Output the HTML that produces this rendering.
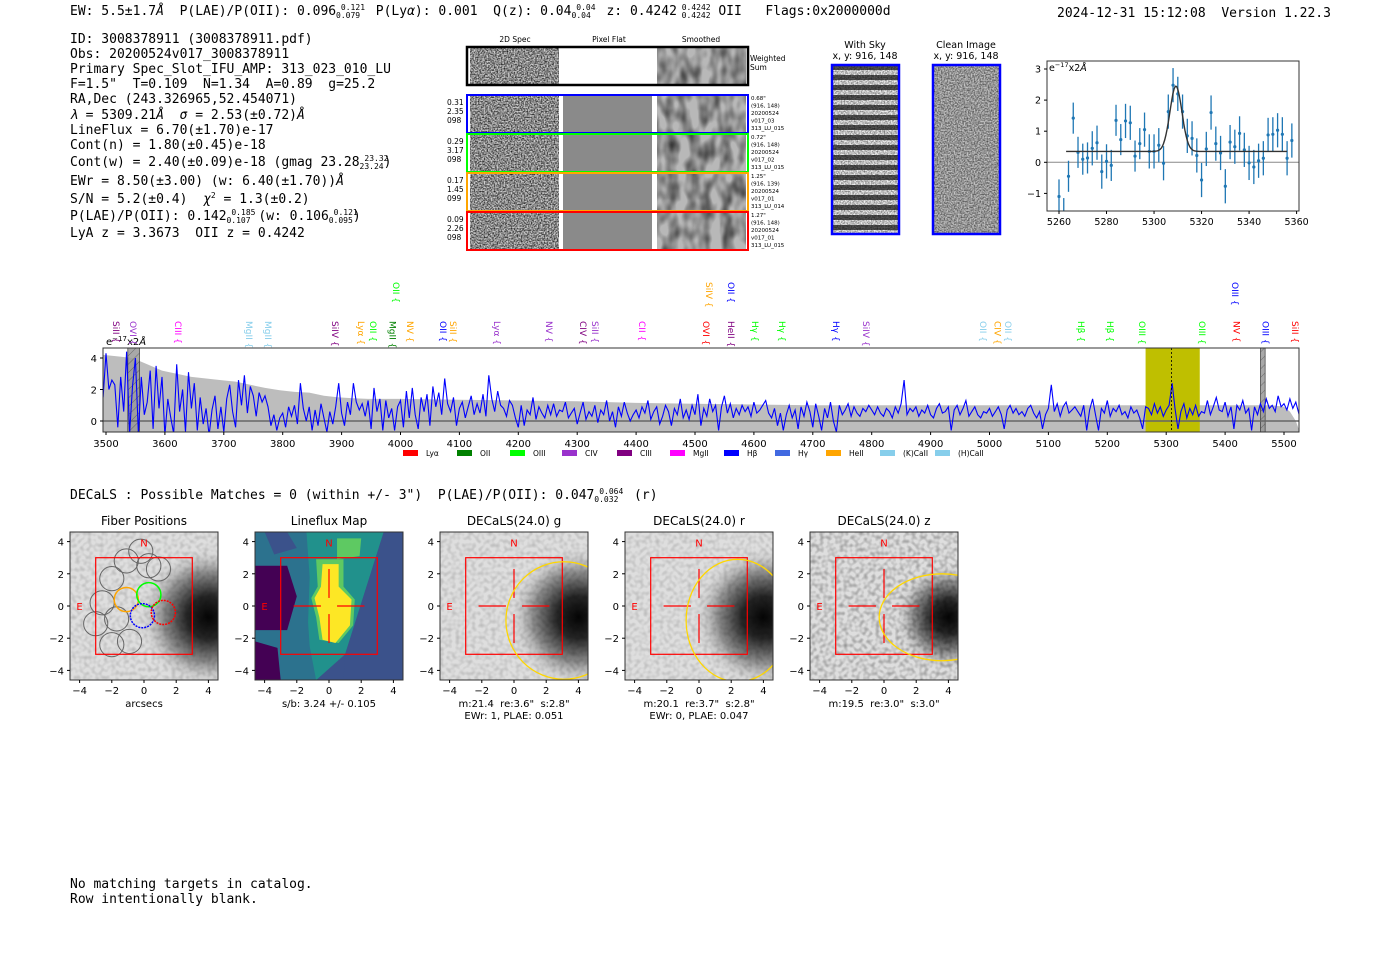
<!DOCTYPE html>
<html><head><meta charset="utf-8">
<style>
html,body{margin:0;padding:0;background:#fff;}
svg{display:block;}
text{white-space:pre;}
.mono{font-family:"DejaVu Sans Mono","Liberation Mono",monospace;font-size:13px;fill:#000;}
.sans{font-family:"DejaVu Sans","Liberation Sans",sans-serif;}
</style></head>
<body>
<svg id="root" width="1400" height="953" viewBox="0 0 1400 953" xmlns="http://www.w3.org/2000/svg" xml:space="preserve">
<defs>
  <filter id="grayNoise" x="0" y="0" width="100%" height="100%">
    <feTurbulence type="fractalNoise" baseFrequency="0.7" numOctaves="1" seed="5" result="t"/>
    <feColorMatrix in="t" type="matrix" values="0 0 0 0 0  0 0 0 0 0  0 0 0 0 0  1.8 0 0 0 -0.55" result="a"/>
    <feFlood flood-color="#000"/>
    <feComposite in2="a" operator="in"/>
  </filter>
  <filter id="smoothNoise" x="0" y="0" width="100%" height="100%">
    <feTurbulence type="fractalNoise" baseFrequency="0.09 0.05" numOctaves="2" seed="8" result="t"/>
    <feColorMatrix in="t" type="matrix" values="0 0 0 0 0  0 0 0 0 0  0 0 0 0 0  1.3 0 0 0 -0.45" result="a"/>
    <feFlood flood-color="#000"/>
    <feComposite in2="a" operator="in"/>
  </filter>
  <filter id="pixNoise" x="0" y="0" width="100%" height="100%">
    <feTurbulence type="fractalNoise" baseFrequency="0.25" numOctaves="1" seed="11" result="t"/>
    <feColorMatrix in="t" type="matrix" values="0 0 0 0 0  0 0 0 0 0  0 0 0 0 0  1.0 0 0 0 -0.4" result="a"/>
    <feFlood flood-color="#000"/>
    <feComposite in2="a" operator="in"/>
  </filter>
  <pattern id="skyStripes" width="10" height="10" patternUnits="userSpaceOnUse">
    <rect width="10" height="5" fill="#f0f0f0"/><rect y="5" width="10" height="5" fill="#555"/>
  </pattern>
  <pattern id="hatch" width="6" height="6" patternUnits="userSpaceOnUse" patternTransform="rotate(45)">
    <rect width="6" height="6" fill="#999"/><line x1="0" y1="0" x2="0" y2="6" stroke="#555" stroke-width="1"/>
  </pattern>
</defs>

<text class="mono" x="70" y="15">EW: 5.5±1.7<tspan font-style="italic">Å</tspan>  P(LAE)/P(OII): 0.096<tspan font-size="8" dy="-5"> 0.121</tspan><tspan font-size="8" dx="-29" dy="8">0.079</tspan><tspan dy="-3">  P(Ly<tspan font-style="italic">α</tspan>): 0.001  Q(z): 0.04</tspan><tspan font-size="8" dy="-5"> 0.04</tspan><tspan font-size="8" dx="-24" dy="8">0.04</tspan><tspan dy="-3">  z: 0.4242</tspan><tspan font-size="8" dy="-5"> 0.4242</tspan><tspan font-size="8" dx="-29" dy="8">0.4242</tspan><tspan dy="-3"> OII   Flags:0x2000000d</tspan></text>
<text class="mono" x="1057" y="17">2024-12-31 15:12:08  Version 1.22.3</text>

<g id="info">
<text class="mono" x="70" y="43">ID: 3008378911 (3008378911.pdf)</text>
<text class="mono" x="70" y="58">Obs: 20200524v017_3008378911</text>
<text class="mono" x="70" y="73">Primary Spec_Slot_IFU_AMP: 313_023_010_LU</text>
<text class="mono" x="70" y="88">F=1.5"  T=0.109  N=1.34  A=0.89  g=25.2</text>
<text class="mono" x="70" y="103">RA,Dec (243.326965,52.454071)</text>
<text class="mono" x="70" y="119"><tspan font-style="italic">λ</tspan> = 5309.21<tspan font-style="italic">Å</tspan>  <tspan font-style="italic">σ</tspan> = 2.53(±0.72)<tspan font-style="italic">Å</tspan></text>
<text class="mono" x="70" y="134">LineFlux = 6.70(±1.70)e-17</text>
<text class="mono" x="70" y="149">Cont(n) = 1.80(±0.45)e-18</text>
<text class="mono" x="70" y="166">Cont(w) = 2.40(±0.09)e-18 (gmag 23.28<tspan font-size="8" dy="-5"> 23.32</tspan><tspan font-size="8" dx="-29" dy="8">23.24</tspan><tspan dy="-3">)</tspan></text>
<text class="mono" x="70" y="185">EWr = 8.50(±3.00) (w: 6.40(±1.70))<tspan font-style="italic">Å</tspan></text>
<text class="mono" x="70" y="203">S/N = 5.2(±0.4)  <tspan font-style="italic">χ</tspan><tspan font-size="8" dy="-5">2</tspan><tspan dy="5"> = 1.3(±0.2)</tspan></text>
<text class="mono" x="70" y="220">P(LAE)/P(OII): 0.142<tspan font-size="8" dy="-5"> 0.185</tspan><tspan font-size="8" dx="-29" dy="8">0.107</tspan><tspan dy="-3"> (w: 0.106</tspan><tspan font-size="8" dy="-5"> 0.121</tspan><tspan font-size="8" dx="-29" dy="8">0.095</tspan><tspan dy="-3">)</tspan></text>
<text class="mono" x="70" y="237">LyA z = 3.3673  OII z = 0.4242</text>
</g>

<g id="spec2d"></g>
<g id="fitplot"></g>
<g id="spectrum"></g>

<text class="mono" x="70" y="499">DECaLS : Possible Matches = 0 (within +/- 3")  P(LAE)/P(OII): 0.047<tspan font-size="8" dy="-5"> 0.064</tspan><tspan font-size="8" dx="-29" dy="8">0.032</tspan><tspan dy="-3">  (r)</tspan></text>

<g id="cutouts"></g>

<text class="mono" x="70" y="888">No matching targets in catalog.</text>
<text class="mono" x="70" y="903">Row intentionally blank.</text>
</svg>

<script>
const NS='http://www.w3.org/2000/svg';
function mk(parent,tag,attrs,text){const e=document.createElementNS(NS,tag);for(const k in attrs)e.setAttribute(k,attrs[k]);if(text!==undefined)e.textContent=text;parent.appendChild(e);return e;}

/* ---------- full spectrum data ---------- */
const specStart=3495;
const specStep=5;
const specFlux=[
1.5,4.3,2.0,2.6,2.3,-0.4,2.8,0.6,4.4,-0.8,2.2,4.0,-0.8,2.8,0.4,1.2,3.2,-0.5,3.5,0.8,
2.8,-0.9,1.4,0.2,-0.8,3.6,0.6,2.0,-0.7,3.1,0.8,2.4,-0.6,1.5,-0.2,0.8,-0.9,0.7,1.6,-0.5,
0.9,-0.7,1.4,2.3,0.6,-0.4,2.6,1.0,2.9,0.5,2.2,1.6,0.3,1.8,1.2,1.6,0.9,-0.3,0.4,-0.6,
0.2,0.5,-0.4,0.9,0.3,1.0,-0.2,2.4,0.8,0.0,0.9,-0.6,0.7,-0.3,1.1,0.2,-0.7,0.6,-0.2,0.9,
2.4,0.5,-0.3,1.2,0.4,2.4,1.2,0.7,1.1,0.3,1.3,-0.5,2.1,0.6,1.4,-0.6,1.3,0.2,0.8,-0.6,
0.9,1.3,-0.4,1.9,0.2,2.1,0.4,-0.5,1.5,0.6,1.7,-0.3,2.2,0.9,1.8,0.4,2.7,1.1,0.6,1.5,
-0.3,0.8,1.2,0.2,0.9,1.6,0.4,1.1,0.5,1.7,0.3,2.9,1.4,0.6,1.9,1.0,0.8,0.3,1.3,1.0,
0.2,-0.4,1.0,-0.3,0.7,0.4,1.5,0.1,0.9,0.5,0.2,1.0,0.4,1.1,0.3,0.7,0.6,1.2,0.2,0.5,
0.8,-0.2,0.5,1.2,0.1,0.6,0.3,1.0,-0.1,0.7,0.4,1.3,0.0,0.6,-0.4,0.9,0.3,1.2,0.5,0.0,
0.4,0.7,0.2,0.9,0.5,1.3,0.1,0.6,0.9,-0.2,0.3,1.0,0.6,-0.3,0.8,0.4,1.4,0.2,0.7,0.1,
1.0,0.4,1.7,-0.3,0.8,0.3,1.4,0.6,1.0,-0.6,0.9,1.6,0.5,1.1,0.2,0.8,0.4,1.0,0.6,0.9,
0.3,1.2,0.5,0.7,1.0,1.3,0.5,0.2,0.8,-0.3,0.5,-0.6,0.4,1.0,0.2,0.7,-0.5,0.9,0.3,1.2,
0.6,-0.4,1.1,0.3,-0.6,0.8,0.2,1.2,0.0,-0.7,1.0,0.4,0.7,1.1,0.3,0.9,0.5,0.3,0.8,0.6,
1.0,0.7,0.4,0.9,0.5,0.3,0.8,0.6,0.2,0.9,0.5,1.1,2.6,0.4,0.8,0.6,0.9,0.3,0.7,0.5,
1.0,0.4,0.2,0.8,1.1,0.5,0.6,0.9,-0.6,0.7,1.0,0.4,0.8,1.3,0.3,0.6,0.9,0.4,0.2,0.6,
0.5,0.8,0.3,0.6,0.9,0.4,-0.5,0.7,1.0,0.5,0.8,0.4,0.6,0.3,0.8,1.0,0.5,0.2,0.6,-0.5,
0.4,0.8,2.3,0.6,1.1,0.3,0.9,1.2,0.5,0.7,0.9,0.6,0.3,1.0,-0.6,0.7,1.4,0.4,-0.6,0.8,
0.5,1.3,0.3,0.8,0.6,1.0,0.4,0.6,0.2,0.9,0.5,0.7,0.2,-0.5,0.9,0.8,0.4,1.1,0.5,0.9,
0.3,0.7,1.0,2.4,0.8,-0.5,0.6,1.1,0.2,0.8,0.4,1.0,0.3,0.6,0.5,1.3,0.4,0.9,1.5,0.7,
0.6,1.2,0.3,0.9,-0.5,1.0,0.7,1.3,0.5,0.8,-0.6,0.9,0.4,1.1,0.6,1.4,0.8,1.0,0.6,1.6,
0.9,1.1,0.7,1.4,0.8,1.2,0.5,1.0];
const errWave=[3495,3520,3545,3570,3595,3620,3645,3670,3695,3720,3745,3770,3795,3820,3845,3870,3895,3920,3945,4000,4100,4200,4300,4400,4500,4600,4700,4800,4900,5000,5100,5200,5300,5400,5480,5500,5510,5520,5525];
const errFlux=[4.2,4.1,4.0,3.6,3.2,3.0,2.8,2.7,2.6,2.5,2.3,2.1,1.95,1.85,1.8,1.6,1.5,1.45,1.4,1.4,1.35,1.3,1.25,1.15,1.1,1.05,1.0,1.0,1.0,1.0,1.0,1.0,1.0,1.0,1.0,0.9,0.6,0.0,-0.5];
const specTicks=[3500,3600,3700,3800,3900,4000,4100,4200,4300,4400,4500,4600,4700,4800,4900,5000,5100,5200,5300,5400,5500];
const specYTicks=[0,2,4];
const lineNames=['SiII','OVI','CIII','MgII','MgII','SiIV','Lyα','OII','MgII','NV','OII','SiII','Lyα','NV','CIV','SiII','CII','OVI','HeII','Hγ','Hγ','Hγ','SiIV','OII','CIV','OII','Hβ','Hβ','OIII','OIII','NV','OIII','SiII','OII','SiIV','OII','OIII'];
const lineWaves=[3517,3546,3622,3743,3775,3889,3933,3953,3986,4016,4072,4089,4164,4252,4310,4330,4410,4519,4561,4602,4648,4739,4790,4989,5014,5031,5155,5205,5259,5361,5419,5469,5519,3992,4524,4561,5417];
const lineColors=['#800080','#9932cc','#ff00ff','#87ceeb','#87ceeb','#800080','#ffa500','#00ff00','#008000','#ffa500','#0000ff','#ffa500','#9932cc','#9932cc','#800080','#9932cc','#ff00ff','#ff0000','#800080','#00ff00','#00ff00','#0000ff','#9932cc','#87ceeb','#ffa500','#87ceeb','#00ff00','#00ff00','#00ff00','#00ff00','#ff0000','#0000ff','#ff0000','#00ff00','#ffa500','#0000ff','#0000ff'];
const lineTier=[0,0,0,0,0,0,0,0,0,0,0,0,0,0,0,0,0,0,0,0,0,0,0,0,0,0,0,0,0,0,0,0,0,1,1,1,1];
const legendNames=['Lyα','OII','OIII','CIV','CIII','MgII','Hβ','Hγ','HeII','(K)CaII','(H)CaII'];
const legendColors=['#ff0000','#008000','#00ff00','#9932cc','#800080','#ff00ff','#0000ff','#4169e1','#ffa500','#87ceeb','#87ceeb'];

/* ---------- fit plot data ---------- */
const fitWave=[5260,5262,5264,5266,5268,5270,5272,5274,5276,5278,5280,5282,5284,5286,5288,5290,5292,5294,5296,5298,5300,5302,5304,5306,5308,5310,5312,5314,5316,5318,5320,5322,5324,5326,5328,5330,5332,5334,5336,5338,5340,5342,5344,5346,5348,5350,5352,5354,5356,5358];
const fitFlux=[-1.1,-1.7,-0.45,1.42,0.32,0.1,0.14,0.45,0.63,-0.3,0.03,-0.1,1.35,0.73,1.33,1.27,0.2,0.6,1.05,0.35,0.35,0.55,-0.03,1.63,2.48,2.2,1.63,0.85,0.77,0.22,-0.57,0.43,1.6,0.6,0.3,-0.77,0.65,0.5,0.93,0.4,-0.02,-0.15,0.05,0.13,0.88,0.9,1.03,0.9,0.13,0.7];
const fitErr=[0.55,0.55,0.5,0.5,0.5,0.5,0.5,0.55,0.55,0.55,0.55,0.5,0.5,0.5,0.55,0.55,0.5,0.5,0.55,0.55,0.55,0.55,0.55,0.55,0.55,0.55,0.55,0.55,0.55,0.55,0.55,0.55,0.55,0.55,0.55,0.55,0.55,0.55,0.55,0.55,0.55,0.55,0.55,0.55,0.55,0.55,0.55,0.55,0.55,0.55];
const fitModel={cont:0.35,amp:2.1,mu:5309.21,sigma:2.53,start:5263,end:5356};
const fitXTicks=[5260,5280,5300,5320,5340,5360];
const fitYTicks=[-1,0,1,2,3];

/* ---------- cutout data ---------- */
const cutTitles=['Fiber Positions','Lineflux Map','DECaLS(24.0) g','DECaLS(24.0) r','DECaLS(24.0) z'];
const cutLabel1=['arcsecs','s/b: 3.24 +/- 0.105','m:21.4  re:3.6"  s:2.8"','m:20.1  re:3.7"  s:2.8"','m:19.5  re:3.0"  s:3.0"'];
const cutLabel2=['','','EWr: 1, PLAE: 0.051','EWr: 0, PLAE: 0.047',''];
const ellipseCx=[null,null,3.1,2.4,3.6];
const ellipseCy=[null,null,-0.9,-0.9,-0.7];
const ellipseRx=[null,null,3.6,3.2,3.9];
const ellipseRy=[null,null,3.65,3.8,2.7];
const cutTicks=[-4,-2,0,2,4];
const fiberGrayX=[-0.2,0.9,-1.1,-2.0,-2.6,-3.0,-2.0,-0.9,-1.7,0.3];
const fiberGrayY=[3.4,2.3,2.8,1.7,0.2,-1.1,-2.4,-2.2,-0.8,2.5];
const fiberColX=[-1.1,0.3,-0.1,1.2];
const fiberColY=[0.4,0.7,-0.6,-0.4];
const fiberColors=['#ffa500','#00ff00','#0000ff','#ff0000'];

/* ===== Full spectrum ===== */
(function(){
  const g=document.getElementById('spectrum');
  const L=103,R=1299,T=348,B=432;
  const xs=w=>106+(w-3500)*0.589;
  const ys=v=>421-v*15.75;
  const cp=mk(g,'clipPath',{id:'specClip'});mk(cp,'rect',{x:L,y:T,width:R-L,height:B-T});
  const inner=mk(g,'g',{'clip-path':'url(#specClip)'});
  let d='M'+xs(errWave[0])+','+B;
  errWave.forEach((w,i)=>{d+=' L'+xs(w).toFixed(1)+','+ys(errFlux[i]).toFixed(1);});
  d+=' L'+xs(errWave[errWave.length-1])+','+B+' Z';
  const ef=mk(inner,'path',{d:d,fill:'#bdbdbd'});
  
  
  const yb=mk(inner,'rect',{x:xs(5265),y:T,width:xs(5357)-xs(5265),height:B-T,fill:'#bfbf00'});
  
  
  [[3537,3557],[5460,5468]].forEach(b=>{
    const h=mk(inner,'rect',{x:xs(b[0]),y:T,width:xs(b[1])-xs(b[0]),height:B-T,fill:'url(#hatch)',stroke:'#333','stroke-width':0.8,opacity:0.85});
    
    
  });
  mk(inner,'line',{x1:L,x2:R,y1:ys(0),y2:ys(0),stroke:'#666','stroke-width':1.5});
  let p='';
  specFlux.forEach((v,i)=>{const w=specStart+i*specStep;p+=(i?' L':'M')+xs(w).toFixed(1)+','+ys(v).toFixed(1);});
  const sl=mk(inner,'path',{d:p,fill:'none',stroke:'#0000ff','stroke-width':1.1});
  
  
  mk(inner,'line',{x1:xs(5309),x2:xs(5309),y1:T,y2:B,stroke:'#000','stroke-width':0.8,'stroke-dasharray':'2,2'});
  mk(g,'rect',{x:L,y:T,width:R-L,height:B-T,fill:'none',stroke:'#333','stroke-width':1});
  specTicks.forEach(t=>{
    mk(g,'line',{x1:xs(t),x2:xs(t),y1:B,y2:B+3,stroke:'#000'});
    const tx=mk(g,'text',{x:xs(t),y:B+15,'text-anchor':'middle','class':'sans','font-size':10},String(t));
    
    
  });
  specYTicks.forEach(t=>{
    mk(g,'line',{x1:L-3,x2:L,y1:ys(t),y2:ys(t),stroke:'#000'});
    const tx=mk(g,'text',{x:L-6,y:ys(t)+4,'text-anchor':'end','class':'sans','font-size':10},String(t));
    
    
  });
  const ul=mk(g,'text',{x:106,y:345,'class':'sans','font-size':10},'e');
  mk(ul,'tspan',{'font-size':7,dy:-4},'−17');
  mk(ul,'tspan',{dy:4},'x2');
  mk(ul,'tspan',{'font-style':'italic'},'Å');
  
  
  lineNames.forEach((n,i)=>{
    const x=xs(lineWaves[i]);
    const yTop=lineTier[i]?282:321;
    const t=mk(g,'text',{x:0,y:0,'class':'sans','font-size':9,fill:lineColors[i],transform:'translate('+(x-3)+','+yTop+') rotate(90)'},n+' {');
    
    
  });
  const legX=[403,457,510,562,617,670,724,775,826,880,935];
  legendNames.forEach((n,i)=>{
    const lg=mk(g,'g',{});
    
    
    mk(lg,'rect',{x:legX[i],y:450,width:15,height:6,fill:legendColors[i]});
    mk(lg,'text',{x:legX[i]+23,y:456,'class':'sans','font-size':7.5},n);
  });
})();

/* ===== Fit plot ===== */
(function(){
  const g=document.getElementById('fitplot');
  const L=1047,R=1299,T=61,B=211;
  const xs=w=>1059+(w-5260)*2.376;
  const ys=v=>162.3-v*31.1;
  mk(g,'rect',{x:L,y:T,width:R-L,height:B-T,fill:'#fff'});
  const cp=mk(g,'clipPath',{id:'fitClip'});mk(cp,'rect',{x:L,y:T,width:R-L,height:B-T});
  const inner=mk(g,'g',{'clip-path':'url(#fitClip)'});
  mk(inner,'line',{x1:L,x2:R,y1:ys(0),y2:ys(0),stroke:'#888','stroke-width':1});
  fitWave.forEach((w,i)=>{
    const e=mk(inner,'line',{x1:xs(w),x2:xs(w),y1:ys(fitFlux[i]+fitErr[i]),y2:ys(fitFlux[i]-fitErr[i]),stroke:'#1f77b4','stroke-width':1.3});
    
    
    const c=mk(inner,'circle',{cx:xs(w),cy:ys(fitFlux[i]),r:1.6,fill:'#1f77b4'});
    
    
  });
  let d='';
  for(let w=fitModel.start,i=0;w<=fitModel.end;w+=0.5,i++){
    const v=fitModel.cont+fitModel.amp*Math.exp(-0.5*Math.pow((w-fitModel.mu)/fitModel.sigma,2));
    d+=(i?' L':'M')+xs(w).toFixed(1)+','+ys(v).toFixed(1);
  }
  const m=mk(inner,'path',{d:d,fill:'none',stroke:'#333','stroke-width':1.4});
  
  
  mk(g,'rect',{x:L,y:T,width:R-L,height:B-T,fill:'none',stroke:'#333','stroke-width':1});
  fitXTicks.forEach(t=>{
    mk(g,'line',{x1:xs(t),x2:xs(t),y1:B,y2:B+3,stroke:'#000'});
    const tx=mk(g,'text',{x:xs(t),y:B+14,'text-anchor':'middle','class':'sans','font-size':9.5},String(t));
    
    
  });
  fitYTicks.forEach(t=>{
    mk(g,'line',{x1:L-3,x2:L,y1:ys(t),y2:ys(t),stroke:'#000'});
    const tx=mk(g,'text',{x:L-6,y:ys(t)+3.5,'text-anchor':'end','class':'sans','font-size':9.5},t<0?'−'+Math.abs(t):String(t));
    
    
  });
  const ul=mk(g,'text',{x:1049,y:71,'class':'sans','font-size':9.5},'e');
  mk(ul,'tspan',{'font-size':6.5,dy:-4},'−17');
  mk(ul,'tspan',{dy:4},'x2');
  mk(ul,'tspan',{'font-style':'italic'},'Å');
  
  
})();

/* ===== 2D spectra ===== */
(function(){
  const g=document.getElementById('spec2d');
  const hdr=[['2D Spec',515],['Pixel Flat',609],['Smoothed',701]];
  hdr.forEach(h=>{const t=mk(g,'text',{x:h[1],y:42,'text-anchor':'middle','class':'sans','font-size':7.5},h[0]);
    
    });
  function cell(x,y,w,h,type){
    if(type==='noise'){mk(g,'rect',{x:x,y:y,width:w,height:h,fill:'#d0d0d0'});mk(g,'rect',{x:x,y:y,width:w,height:h,fill:'#fff',filter:'url(#grayNoise)'});}
    else if(type==='flat'){mk(g,'rect',{x:x,y:y,width:w,height:h,fill:'#8a8a8a'});}
    else if(type==='smooth'){mk(g,'rect',{x:x,y:y,width:w,height:h,fill:'#b8b8b8'});mk(g,'rect',{x:x,y:y,width:w,height:h,fill:'#fff',filter:'url(#smoothNoise)'});}
  }
  cell(470,48,89,36,'noise');cell(657,48,89,36,'smooth');
  mk(g,'rect',{x:467,y:47,width:281,height:38,fill:'none',stroke:'#000','stroke-width':2.5});
  mk(g,'text',{x:750,y:61,'class':'sans','font-size':7.5},'Weighted');
  mk(g,'text',{x:750,y:70,'class':'sans','font-size':7.5},'Sum');
  const rows=[[95,'#0000ff',['0.31','2.35','098'],['0.68"','(916, 148)','20200524','v017_03','313_LU_015']],
              [134,'#00ff00',['0.29','3.17','098'],['0.72"','(916, 148)','20200524','v017_02','313_LU_015']],
              [173,'#ffa500',['0.17','1.45','099'],['1.25"','(916, 139)','20200524','v017_01','313_LU_014']],
              [212,'#ff0000',['0.09','2.26','098'],['1.27"','(916, 148)','20200524','v017_01','313_LU_015']]];
  rows.forEach(r=>{
    const y=r[0];
    const rg=mk(g,'g',{});
    
    
    cell(470,y+1,89,37,'noise');cell(563,y+1,89,37,'flat');cell(657,y+1,89,37,'smooth');
    mk(g,'rect',{x:467,y:y,width:281,height:38,fill:'none',stroke:r[1],'stroke-width':2});
    r[2].forEach((s,i)=>mk(g,'text',{x:447,y:y+10+i*9,'class':'sans','font-size':7.5},s));
    r[3].forEach((s,i)=>mk(g,'text',{x:751,y:y+5+i*7.5,'class':'sans','font-size':5.5},s));
  });
  mk(g,'text',{x:865,y:48,'text-anchor':'middle','class':'sans','font-size':9.5},'With Sky');
  mk(g,'text',{x:865,y:59,'text-anchor':'middle','class':'sans','font-size':9.5},'x, y: 916, 148');
  mk(g,'text',{x:966,y:48,'text-anchor':'middle','class':'sans','font-size':9.5},'Clean Image');
  mk(g,'text',{x:966,y:59,'text-anchor':'middle','class':'sans','font-size':9.5},'x, y: 916, 148');
  mk(g,'rect',{x:832,y:65,width:67,height:169,fill:'url(#skyStripes)'});
  mk(g,'rect',{x:832,y:65,width:67,height:169,fill:'#fff',filter:'url(#grayNoise)',opacity:0.6});
  mk(g,'rect',{x:832,y:65,width:67,height:169,fill:'none',stroke:'#0000ff','stroke-width':2.5});
  mk(g,'rect',{x:933,y:65,width:67,height:169,fill:'#c4c4c4'});
  mk(g,'rect',{x:933,y:65,width:67,height:169,fill:'#fff',filter:'url(#grayNoise)',opacity:0.7});
  mk(g,'rect',{x:933,y:65,width:67,height:169,fill:'none',stroke:'#0000ff','stroke-width':2.5});
})();

/* ===== Cutouts ===== */
(function(){
  const root=document.getElementById('cutouts');
  const centers=[144,329,514,699,884];
  const cy0=606, u=16.1, half=74;
  centers.forEach((cx,k)=>{
    const g=mk(root,'g',{});
    
    
    const xs=v=>cx+v*u, ys=v=>cy0-v*u;
    const L=cx-half,T=cy0-half,W=2*half;
    const cp=mk(g,'clipPath',{id:'cc'+k});mk(cp,'rect',{x:L,y:T,width:W,height:W});
    const inner=mk(g,'g',{'clip-path':'url(#cc'+k+')'});
    const poly=(pts,fill)=>mk(inner,'polygon',{points:pts.map(p=>xs(p[0])+','+ys(p[1])).join(' '),fill:fill});
    if(k===1){
      mk(inner,'rect',{x:L,y:T,width:W,height:W,fill:'#3b528b'});
      poly([[-4.6,4.6],[3.4,4.6],[1.0,-3.0],[-0.8,-4.6],[-4.6,-4.6]],'#2c728e');
      poly([[-4.6,2.5],[-2.6,2.5],[-2.0,0.6],[-2.6,-1.5],[-4.6,-1.5]],'#440154');
      poly([[-4.6,-2.2],[-3.2,-2.6],[-3.0,-4.6],[-4.6,-4.6]],'#440154');
      poly([[-4.0,4.6],[-2.6,4.6],[-2.0,3.6],[-3.4,3.2]],'#3b528b');
      poly([[-1.4,4.6],[3.4,4.6],[1.0,-3.0],[-0.8,-4.6],[-1.2,-2.5],[-1.3,-1.0],[-1.2,1.8]],'#21918c');
      poly([[0.5,4.2],[2.0,4.2],[1.9,3.1],[0.5,2.9]],'#5ec962');
      poly([[-0.8,2.9],[0.9,2.9],[0.9,1.2],[1.6,0.4],[1.5,-1.2],[0.6,-2.3],[-0.6,-2.1],[-0.8,-0.7],[-1.1,0.5],[-0.7,1.2]],'#5ec962');
      poly([[-0.4,2.6],[0.6,2.6],[0.6,1.2],[1.4,0.4],[1.3,-1.2],[0.4,-2.3],[-0.4,-2.1],[-0.6,-0.7],[-0.9,0.5],[-0.5,1.2]],'#fde725');
      poly([[3.4,4.6],[4.6,4.6],[4.6,-4.6],[0.9,-4.6],[1.0,-3.0]],'#3b528b');
    } else {
      const gid='rg'+k;
      const rg=mk(g,'radialGradient',{id:gid,gradientUnits:'userSpaceOnUse',cx:xs(4.0),cy:ys(-0.7),r:u*(k===4?3.4:4.4)});
      mk(rg,'stop',{offset:'0','stop-color':'#050505'});
      mk(rg,'stop',{offset:'0.3','stop-color':'#252525'});
      mk(rg,'stop',{offset:'0.65','stop-color':'#909090'});
      mk(rg,'stop',{offset:'1','stop-color':'#dedede','stop-opacity':'0'});
      mk(inner,'rect',{x:L,y:T,width:W,height:W,fill:'#dedede'});
      mk(inner,'rect',{x:L,y:T,width:W,height:W,fill:'url(#'+gid+')'});
      mk(inner,'rect',{x:L,y:T,width:W,height:W,fill:'#fff',filter:'url(#pixNoise)',opacity:k===4?0.7:0.35});
    }
    if(k===0){
      fiberGrayX.forEach((fx,i)=>{
        const c=mk(inner,'circle',{cx:xs(fx),cy:ys(fiberGrayY[i]),r:0.75*u,fill:'none',stroke:'#666','stroke-width':1});
        
        
      });
      fiberColX.forEach((fx,i)=>{
        const c=mk(inner,'circle',{cx:xs(fx),cy:ys(fiberColY[i]),r:0.75*u,fill:'none',stroke:fiberColors[i],'stroke-width':1.5,'stroke-dasharray':i>1?'2,1':'none'});
        
        
      });
    }
    mk(inner,'rect',{x:xs(-3),y:ys(3),width:6*u,height:6*u,fill:'none',stroke:'#ff0000','stroke-width':1.2});
    if(k>0){
      [[-2.2,0,-0.5,0],[0.5,0,2.2,0],[0,0.5,0,2.3],[0,-0.5,0,-2.3]].forEach(s=>mk(inner,'line',{x1:xs(s[0]),y1:ys(s[1]),x2:xs(s[2]),y2:ys(s[3]),stroke:'#ff0000','stroke-width':1.2}));
    }
    mk(inner,'text',{x:xs(0),y:ys(4)+5,'text-anchor':'middle','class':'sans','font-size':10,fill:'#ff0000'},'N');
    mk(inner,'text',{x:xs(-4),y:ys(0)+4,'text-anchor':'middle','class':'sans','font-size':10,fill:'#ff0000'},'E');
    if(ellipseCx[k]!==null){
      const el=mk(inner,'ellipse',{cx:xs(ellipseCx[k]),cy:ys(ellipseCy[k]),rx:ellipseRx[k]*u,ry:ellipseRy[k]*u,fill:'none',stroke:'#ffd700','stroke-width':1.3});
      
      
    }
    mk(g,'rect',{x:L,y:T,width:W,height:W,fill:'none',stroke:'#333','stroke-width':1});
    cutTicks.forEach(t=>{
      mk(g,'line',{x1:xs(t),x2:xs(t),y1:T+W,y2:T+W+3,stroke:'#000'});
      mk(g,'text',{x:xs(t),y:T+W+14,'text-anchor':'middle','class':'sans','font-size':10},t<0?'−'+Math.abs(t):String(t));
      mk(g,'line',{x1:L-3,x2:L,y1:ys(t),y2:ys(t),stroke:'#000'});
      mk(g,'text',{x:L-6,y:ys(t)+4,'text-anchor':'end','class':'sans','font-size':10},t<0?'−'+Math.abs(t):String(t));
    });
    const tt=mk(g,'text',{x:cx,y:525,'text-anchor':'middle','class':'sans','font-size':12},cutTitles[k]);
    
    
    mk(g,'text',{x:cx,y:707,'text-anchor':'middle','class':'sans','font-size':10},cutLabel1[k]);
    if(cutLabel2[k])mk(g,'text',{x:cx,y:719,'text-anchor':'middle','class':'sans','font-size':10},cutLabel2[k]);
  });
})();
</script>
</body></html>
